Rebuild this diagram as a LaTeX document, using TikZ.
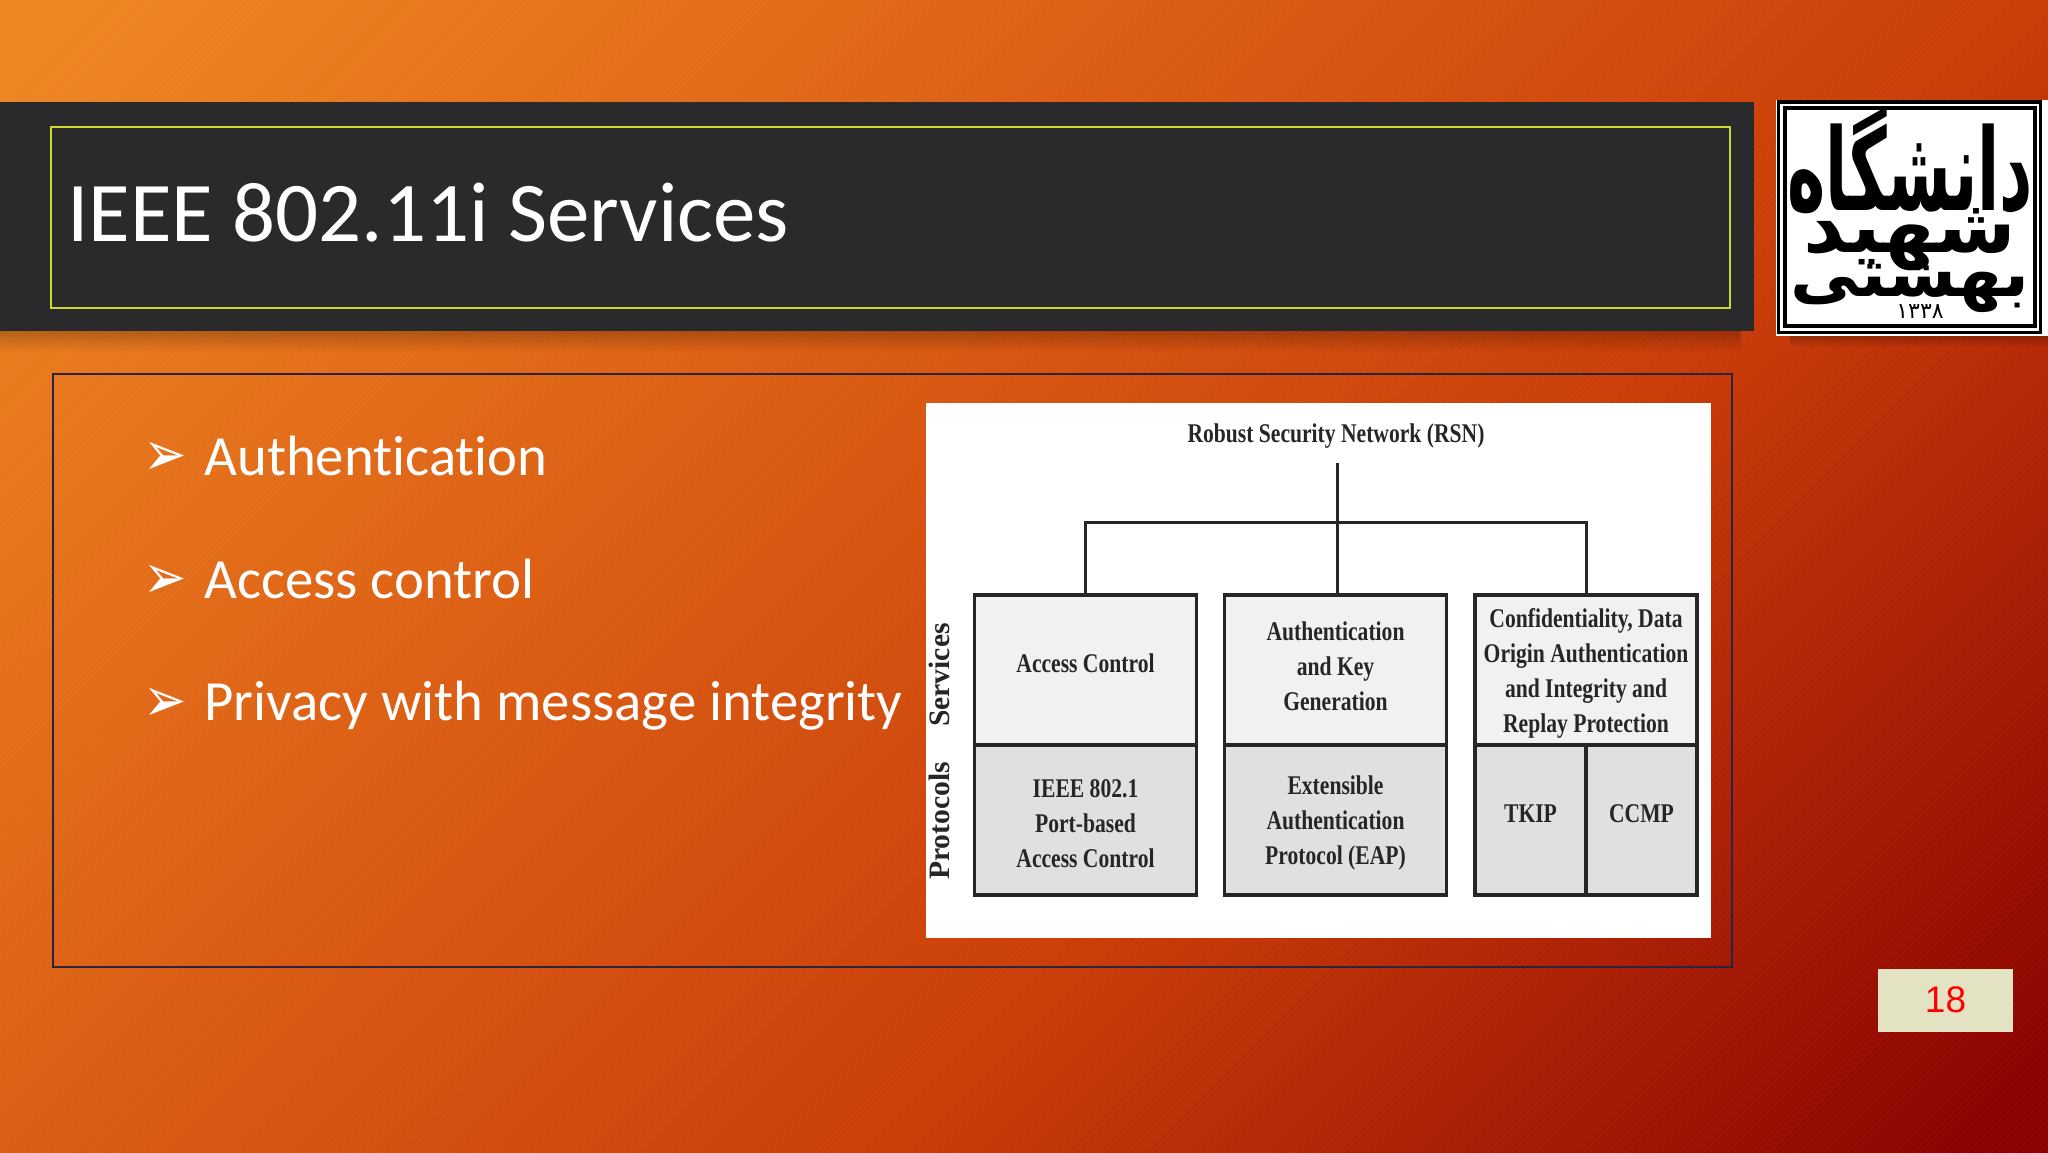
\documentclass[tikz,border=0pt]{standalone}
\usepackage{fontspec}
\setmainfont[Ligatures={NoCommon}]{Carlito}
\newfontfamily\timesfont[FakeStretch=0.8]{Liberation Serif}
\newfontfamily\sidefont{Liberation Serif}
\newfontfamily\pagefont{Liberation Sans}
\newfontfamily\arabicfont[Script=Arabic]{DejaVu Sans}
\newfontfamily\dejavu{DejaVu Sans}
\TeXXeTstate=1
\usetikzlibrary{positioning,calc,fadings,patterns}
\definecolor{bgA}{HTML}{EE8622}
\definecolor{bgB}{HTML}{DA5A12}
\definecolor{bgC}{HTML}{C93C08}
\definecolor{bgD}{HTML}{8A0000}
\definecolor{bandgray}{HTML}{2A2A2C}
\definecolor{titleline}{HTML}{C9D92E}
\definecolor{frameblue}{HTML}{2A2440}
\definecolor{pagebox}{HTML}{E3E2C2}
\definecolor{boxtop}{HTML}{F1F1F3}
\definecolor{boxbot}{HTML}{DFE0E2}
\definecolor{inkdark}{HTML}{262626}
\pgfdeclarehorizontalshading{slidebg}{100bp}{color(0bp)=(bgA); color(16bp)=(bgA);
  color(42bp)=(bgB); color(60bp)=(bgC); color(84bp)=(bgD); color(100bp)=(bgD)}
\newcommand{\cellstrut}{\rule{0pt}{12.5pt}}
\begin{document}
\begin{tikzpicture}[
      x=0.5pt, y=-0.5pt,
      font=\fontsize{28.4}{32}\selectfont,
      blist/.style={anchor=base west, text=white, inner sep=0pt},
      bulletmark/.style={anchor=center, text=white, inner sep=0pt, yscale=1.2, font=\dejavu\fontsize{26}{26}\selectfont},
      cellbox/.style={draw=inkdark, line width=1.6pt, minimum height=75pt, align=center, inner sep=0pt,
                      text=inkdark, font=\timesfont\bfseries\fontsize{13.5}{17.5}\selectfont},
      svcbox/.style={cellbox, fill=boxtop, minimum width=111pt, text depth=4pt},
      prtbox/.style={cellbox, fill=boxbot, minimum width=111pt},
      halfbox/.style={cellbox, fill=boxbot, minimum width=55.5pt, text depth=6pt},
      tree/.style={draw=inkdark, line width=1.5pt},
      sidelbl/.style={rotate=90, text=inkdark, inner sep=0pt, font=\sidefont\bfseries\fontsize{14.8}{15}\selectfont},
      logotxt/.style={inner sep=0pt, text=black, font=\arabicfont\bfseries\fontsize{30}{30}\selectfont}
    ]
    \useasboundingbox (0,0) rectangle (2048,1152);
    % ------------- Background -------------
    \shade[shading=slidebg, shading angle=-45] (0,0) rectangle (2048,1152);
    \fill[pattern=north east lines, pattern color=white, opacity=0.04] (0,0) rectangle (2048,1152);
    % ------------- Title band -------------
    \fill[black, opacity=0.22, path fading=south] (0,331) rectangle (1745,352);
    \fill[bandgray] (0,102) rectangle (1754,331);
    \draw[titleline, line width=0.8pt] (51,127) rectangle (1730,308);
    \node[anchor=base west, text=white, inner sep=0pt, font=\fontsize{42.5}{50}\selectfont] (titletext) at (67,241) {IEEE 802.11i Services};
    % ------------- Logo -------------
    \fill[black, opacity=0.25, path fading=south] (1790,335) rectangle (2048,347);
    \node[fill=white, minimum width=136pt, minimum height=118pt, inner sep=0pt] (logo) at (1912,218) {};
    \draw[black, line width=1.6pt] (1778.5,102) rectangle (2040.5,332.5);
    \draw[black, line width=2pt] (1785,107.5) rectangle (2035,326);
    \node[logotxt, xscale=1.08, yscale=1.9] (uni) at (1910,160) {\beginR دانشگاه\endR};
    \node[logotxt, xscale=1.35, yscale=1.25] (sha) at (1910,240) {\beginR شهید\endR};
    \node[logotxt, xscale=1.15, yscale=1.1] (beh) at (1910,285) {\beginR بهشتی\endR};
    \node[logotxt, font=\arabicfont\fontsize{11}{11}\selectfont] (year) at (1920,312) {۱۳۳۸};
    % ------------- Content frame -------------
    \draw[frameblue, line width=0.8pt] (53,374) rectangle (1732,967);
    \node[bulletmark] (b1) at (165,459) {➢};
    \node[bulletmark] (b2) at (165,582) {➢};
    \node[bulletmark] (b3) at (165,705) {➢};
    \node[blist] (t1) at (204,475) {Authentication};
    \node[blist] (t2) at (204,598) {Access control};
    \node[blist] (t3) at (204,720) {Privacy with message integrity};
    % ------------- RSN figure -------------
    \fill[white] (926,403) rectangle (1711,938);
    \node[text=inkdark, inner sep=0pt, font=\timesfont\bfseries\fontsize{13.5}{16}\selectfont] (rsn) at (1336,436) {Robust Security Network (RSN)};
    \node[svcbox, text depth=6.5pt] (ac) at (1085.5,670) {Access Control};
    \node[svcbox] (akg) at (1335.5,670) {Authentication\\and Key\\Generation};
    \node[svcbox, text depth=0pt] (cdo) at (1586,670) {Confidentiality, Data\\Origin Authentication\\and Integrity and\\Replay Protection};
    \node[prtbox] (pac) at (1085.5,820) {\cellstrut IEEE 802.1\\Port-based\\Access Control};
    \node[prtbox] (eap) at (1335.5,820) {\cellstrut Extensible\\Authentication\\Protocol (EAP)};
    \node[halfbox] (tkip) at (1530.5,820) {TKIP};
    \node[halfbox] (ccmp) at (1641.5,820) {CCMP};
    \node[sidelbl] (svc) at (939,675) {Services};
    \node[sidelbl] (prt) at (939,821) {Protocols};
    \coordinate (rsntop) at (1337,463);
    \coordinate (hub) at (1337,522);
    \draw[tree] (rsntop) -- (hub);
    \draw[tree] (hub) -- (akg.north -| hub);
    \draw[tree] (ac.north) |- (hub);
    \draw[tree] (cdo.north) |- (hub);
    % ------------- Page number -------------
    \node[fill=pagebox, minimum width=67.5pt, minimum height=31.5pt, inner sep=0pt, text=red,
          font=\pagefont\fontsize{18.5}{24}\selectfont] (pagenum) at (1945.5,1000) {18};
\end{tikzpicture}
\end{document}
